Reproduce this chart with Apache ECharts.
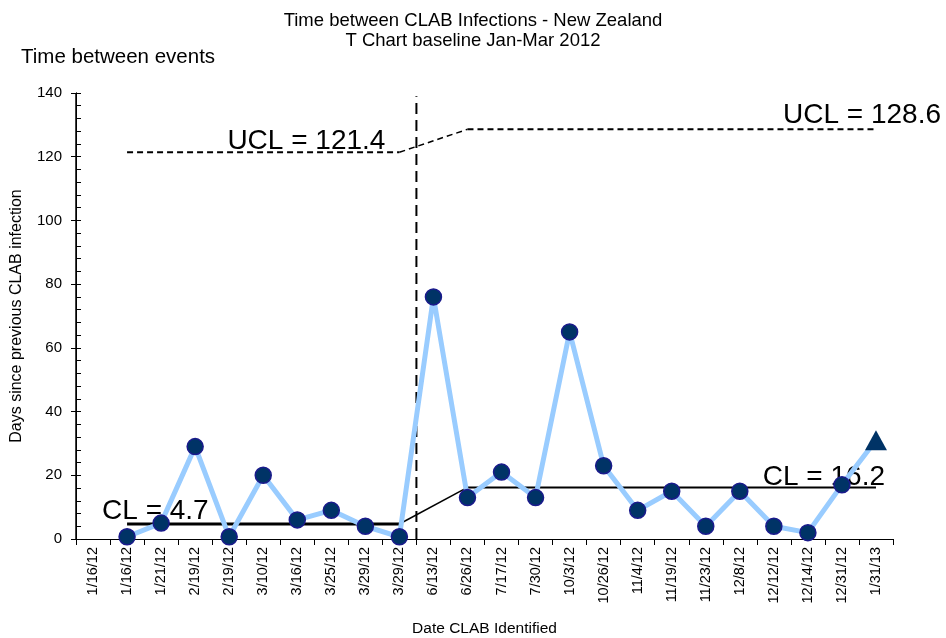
<!DOCTYPE html>
<html>
<head>
<meta charset="utf-8">
<title>Time between CLAB Infections - New Zealand</title>
<script src="https://cdn.jsdelivr.net/npm/echarts@6/dist/echarts.min.js"></script>
<style>
  html, body { margin: 0; padding: 0; background: #fff; }
  #chart { width: 946px; height: 638px; }
</style>
</head>
<body>
<div id="chart"></div>
<script>
// dates of each CLAB infection (x axis categories)
const categories = ['1/16/12', '1/16/12', '1/21/12', '2/19/12', '2/19/12', '3/10/12', '3/16/12', '3/25/12',
  '3/29/12', '3/29/12', '6/13/12', '6/26/12', '7/17/12', '7/30/12', '10/3/12', '10/26/12', '11/4/12',
  '11/19/12', '11/23/12', '12/8/12', '12/12/12', '12/14/12', '12/31/12', '1/31/13'];
// days since the previous infection (first date has none)
const days = [null, 0.7, 5, 29, 0.7, 20, 6, 9, 4, 0.7, 76, 13, 21, 13, 65, 23, 9, 15, 4, 15, 4, 2, 17, 31];
// control limits: baseline (Jan-Mar 2012) and after
const clLevels = [4.7, 16.2];
const uclLevels = [121.4, 128.6];
// first / last category index of each phase
const phaseStart = [1, 11];
const phaseEnd = [9, 23];
const yTicks = { min: 0, max: 140, interval: 20 };

const FONT = 'Liberation Sans, Arial, sans-serif';
const chart = echarts.init(document.getElementById('chart'));

// category index -> position on the hidden value x axis (centre of the band)
const mid = i => i + 0.5;

// one polyline for a limit: flat baseline, ramp, flat second phase
function segments(levels) {
  return {
    base: [[mid(phaseStart[0]), levels[0]], [mid(phaseEnd[0]), levels[0]]],
    ramp: [[mid(phaseEnd[0]), levels[0]], [mid(phaseStart[1]), levels[1]]],
    next: [[mid(phaseStart[1]), levels[1]], [mid(phaseEnd[1]), levels[1]]]
  };
}
const cl = segments(clLevels);
const ucl = segments(uclLevels);
const splitAt = phaseEnd[0] + 1;

function limitLine(data, width, dashed) {
  return {
    type: 'line', xAxisIndex: 1, data: data, symbol: 'none', silent: true, z: 2,
    lineStyle: { color: '#000', width: width, type: dashed ? [6, 4] : 'solid' }
  };
}

const labelData = [
  { value: [mid(phaseEnd[0]), uclLevels[0]], name: 'UCL = ' + uclLevels[0], label: { align: 'right', offset: [-14, 0], distance: -3 } },
  { value: [mid(phaseEnd[1]), uclLevels[1]], name: 'UCL = ' + uclLevels[1], label: { align: 'right', offset: [65, 0], distance: 0 } },
  { value: [mid(phaseStart[0]), clLevels[0]], name: 'CL = ' + clLevels[0], label: { align: 'left', offset: [-25, 0], distance: -1 } },
  { value: [mid(phaseEnd[1]), clLevels[1]], name: 'CL = ' + clLevels[1], label: { align: 'right', offset: [9, 0], distance: -4 } }
];

const pointData = days.map(function (v, i) {
  if (i === days.length - 1) {
    return { value: v, symbol: 'triangle', symbolSize: [22, 20], itemStyle: { borderWidth: 0 } };
  }
  return v;
});

const yAxisLine = { show: true, onZero: false, lineStyle: { color: '#000', width: 1 } };

const option = {
  animation: false,
  backgroundColor: '#fff',
  title: [
    {
      text: 'Time between CLAB Infections - New Zealand\nT Chart baseline Jan-Mar 2012',
      left: 'center', top: 6,
      textStyle: { fontFamily: FONT, fontSize: 18.5, fontWeight: 'normal', color: '#000', lineHeight: 20, align: 'center' }
    },
    {
      text: 'Time between events',
      left: 16, top: 42,
      textStyle: { fontFamily: FONT, fontSize: 20.5, fontWeight: 'normal', color: '#000' }
    }
  ],
  grid: { left: 76, right: 53, top: 93, bottom: 99, containLabel: false, outerBoundsMode: 'none' },
  xAxis: [
    {
      type: 'category',
      data: categories,
      boundaryGap: true,
      name: 'Date CLAB Identified',
      nameLocation: 'middle',
      nameGap: 82,
      nameMoveOverlap: false,
      nameTextStyle: { fontFamily: FONT, fontSize: 15.5, color: '#000' },
      axisLine: { onZero: false, lineStyle: { color: '#000', width: 1 } },
      axisTick: { show: true, length: 6, alignWithLabel: false, lineStyle: { color: '#000' } },
      axisLabel: { interval: 0, rotate: 90, margin: 8, fontFamily: FONT, fontSize: 14.5, color: '#000' },
      splitLine: { show: false }
    },
    { type: 'value', min: 0, max: categories.length, show: false }
  ],
  yAxis: [
    {
      type: 'value',
      min: yTicks.min, max: yTicks.max, interval: yTicks.interval,
      name: 'Days since previous CLAB infection',
      nameLocation: 'middle',
      nameRotate: 90,
      nameGap: 51,
      nameMoveOverlap: false,
      nameTextStyle: { fontFamily: FONT, fontSize: 16, color: '#000' },
      axisLine: yAxisLine,
      axisTick: { show: true, length: 5, lineStyle: { color: '#000' } },
      axisLabel: { margin: 14, fontFamily: FONT, fontSize: 15, color: '#000' },
      splitLine: { show: false }
    },
    {
      type: 'value',
      min: yTicks.min, max: yTicks.max, interval: yTicks.interval,
      position: 'left',
      axisLine: yAxisLine,
      axisTick: { show: true, inside: true, length: 5, lineStyle: { color: '#000' } },
      minorTick: { show: true, splitNumber: 5, length: 5, lineStyle: { color: '#000' } },
      axisLabel: { show: false },
      splitLine: { show: false }
    }
  ],
  series: [
    {
      type: 'scatter', xAxisIndex: 1, symbolSize: 0, silent: true, z: 1,
      data: labelData,
      label: {
        show: true, position: 'top', formatter: '{b}',
        fontFamily: FONT, fontSize: 28, color: '#000000', opacity: 1
      }
    },
    limitLine(cl.base, 3, false),
    limitLine(cl.ramp, 1.5, false),
    limitLine(cl.next, 2, false),
    limitLine(ucl.base, 2, true),
    limitLine(ucl.ramp, 1.5, true),
    limitLine(ucl.next, 2, true),
    {
      type: 'line', xAxisIndex: 1, symbol: 'none', silent: true, z: 2,
      data: [[splitAt, yTicks.min], [splitAt, 139]],
      lineStyle: { color: '#000', width: 2, type: [11, 6] }
    },
    {
      // left edge of the plot (y axis line), kept unclipped
      type: 'line', xAxisIndex: 1, symbol: 'none', silent: true, z: 10, clip: false,
      data: [[0, yTicks.min], [0, yTicks.max]],
      lineStyle: { color: '#000', width: 1.5 }
    },
    {
      type: 'line', z: 3,
      data: pointData,
      symbol: 'circle', symbolSize: 16,
      lineStyle: { color: '#99ccff', width: 5 },
      itemStyle: { color: '#003366', borderColor: '#1a1a8c', borderWidth: 1.5 }
    }
  ]
};

chart.setOption(option);
</script>
</body>
</html>
